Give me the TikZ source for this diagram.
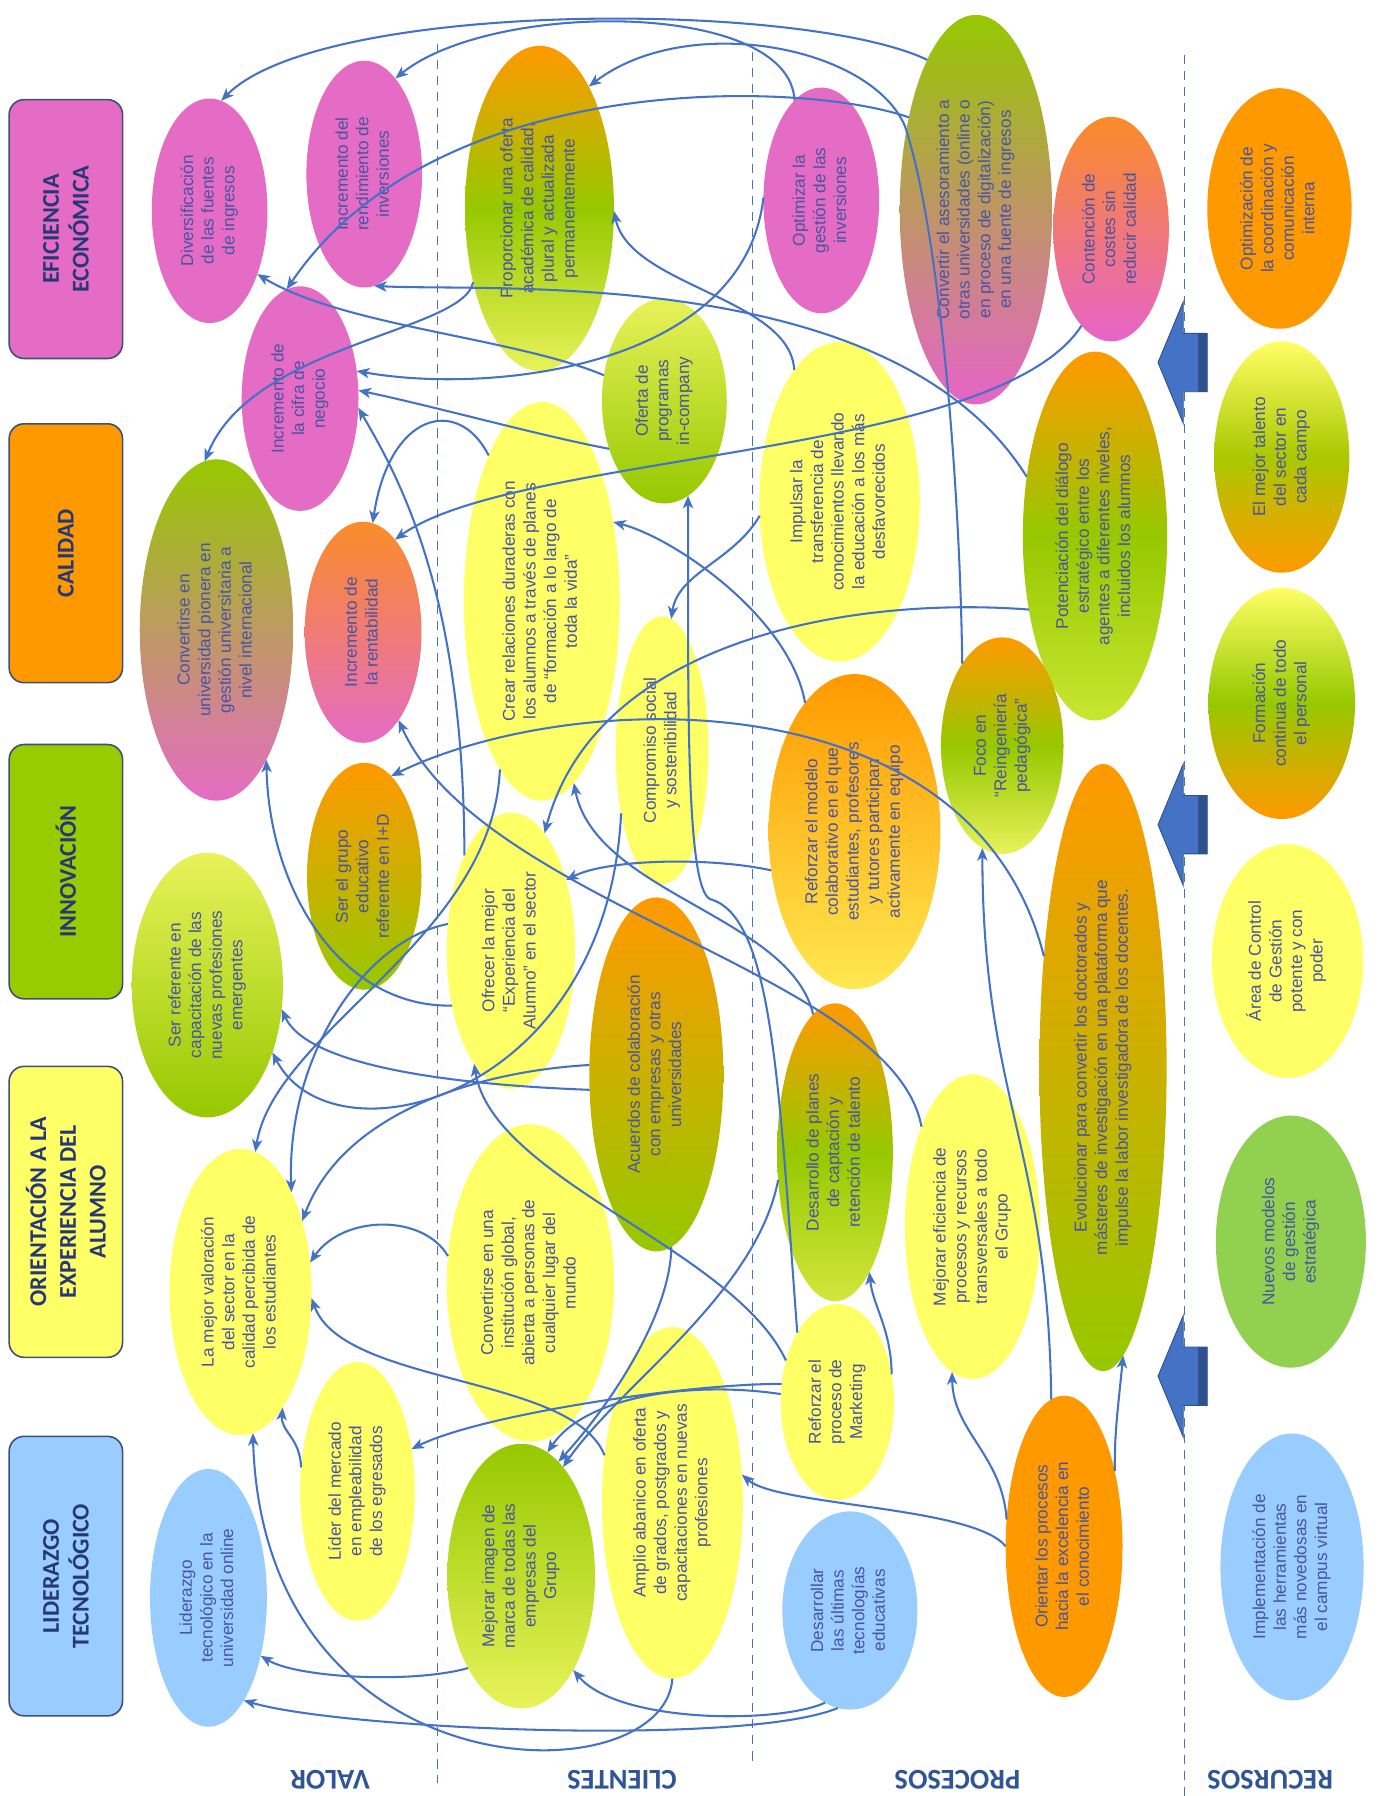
\documentclass[tikz,border=0pt]{standalone}
\usepackage{fontspec}
\usepackage{graphicx}
\setmainfont{Liberation Sans}
\newfontfamily\hdfont{Carlito}
\usetikzlibrary{shapes.geometric,arrows.meta}
\definecolor{pk}{RGB}{229,108,196}
\definecolor{pk2}{RGB}{230,100,200}
\definecolor{og}{RGB}{255,153,0}
\definecolor{or2}{RGB}{250,140,40}
\definecolor{gn}{RGB}{153,204,0}
\definecolor{gn2}{RGB}{150,200,0}
\definecolor{yl}{RGB}{255,255,102}
\definecolor{ylg}{RGB}{232,242,90}
\definecolor{lb}{RGB}{153,204,255}
\definecolor{ng}{RGB}{146,208,80}
\definecolor{txt}{RGB}{72,84,163}
\definecolor{cn}{RGB}{68,114,196}
\definecolor{dkb}{RGB}{47,82,143}
\definecolor{hdtxt}{RGB}{38,55,120}
\definecolor{hdbd}{RGB}{60,80,120}
\definecolor{lbl}{RGB}{47,85,151}
\newcommand{\rt}[1]{\rotatebox{90}{\begin{tabular}{@{}c@{}}#1\end{tabular}}}
\begin{document}
\begin{tikzpicture}[x=1pt,y=-1pt,
  ell/.style={ellipse, inner sep=0pt, outer sep=0pt, text=txt, font=\fontsize{15}{18}\selectfont},
  hdr/.style={rectangle, rounded corners=13pt, draw=hdbd, line width=1.4pt, text=hdtxt, align=center,
     font=\hdfont\bfseries\fontsize{21}{26}\selectfont, rotate=90, minimum height=99pt},
  lab/.style={text=lbl, font=\hdfont\bfseries\fontsize{25}{28}\selectfont, rotate=180},
  conn/.style={draw=cn, line width=1.8pt, -{Stealth[length=11pt,width=9pt,inset=3pt]}},
  dsh/.style={draw=cn, line width=1.4pt, dash pattern=on 8pt off 6pt},
  barrow/.style={fill=cn, draw=dkb, line width=0.8pt}]
\fill[white] (0,0) rectangle (1206,1568);
\useasboundingbox (0,0) rectangle (1206,1568);

% separators
\draw[dsh] (382,38) -- (382,1557);
\draw[dsh] (657,45) -- (657,1541);
\draw[dsh] (1034,48) -- (1034,1568);

% perspective headers
\node[hdr, fill=pk, minimum width=226pt] (h1) at (57.5,200) {EFICIENCIA\\ECONÓMICA};
\node[hdr, fill=og, minimum width=226pt] (h2) at (57.5,483) {CALIDAD};
\node[hdr, fill=gn, minimum width=222pt] (h3) at (57.5,761) {INNOVACIÓN};
\node[hdr, fill=yl, minimum width=254pt] (h4) at (57.5,1058) {ORIENTACIÓN A LA\\EXPERIENCIA DEL\\ALUMNO};
\node[hdr, fill=lb, minimum width=244pt] (h5) at (57.5,1376) {LIDERAZGO\\TECNOLÓGICO};

% row labels
\node[lab] (l1) at (288,1554) {VALOR};
\node[lab] (l2) at (543,1554) {CLIENTES};
\node[lab] (l3) at (836,1554) {PROCESOS};
\node[lab] (l4) at (1109,1554) {RECURSOS};

% VALOR
\node[ell,fill=pk,minimum width=101pt,minimum height=196pt] (e1) at (183,184) {\rt{Diversificación\\de las fuentes\\de ingresos}};
\node[ell,top color=gn2,bottom color=pk,minimum width=134pt,minimum height=298pt] (e4) at (189,550) {\rt{Convertirse en\\universidad pionera en\\gestión universitaria a\\nivel internacional}};
\node[ell,fill=pk,minimum width=101pt,minimum height=198pt] (e2) at (318,152) {\rt{Incremento del\\rendimiento de\\inversiones}};
\node[ell,fill=pk,minimum width=102pt,minimum height=196pt] (e3) at (262,348) {\rt{Incremento de\\la cifra de\\negocio}};
\node[ell,top color=or2,bottom color=pk,minimum width=102pt,minimum height=193pt] (e5) at (317,552) {\rt{Incremento de\\la rentabilidad}};
\node[ell,top color=og,bottom color=gn2,minimum width=100pt,minimum height=198pt] (e6) at (318,765) {\rt{Ser el grupo\\educativo\\referente en I+D}};
\node[ell,top color=ylg,bottom color=gn2,minimum width=132pt,minimum height=231pt] (e7) at (181,860) {\rt{Ser referente en\\capacitación de las\\nuevas profesiones\\emergentes}};
\node[ell,fill=yl,minimum width=124pt,minimum height=250pt] (e8) at (210,1128) {\rt{La mejor valoración\\del sector en la\\calidad percibida de\\los estudiantes}};
\node[ell,fill=yl,minimum width=100pt,minimum height=226pt] (e9) at (312,1302) {\rt{Líder del mercado\\en empleabilidad\\de los egresados}};
\node[ell,fill=lb,minimum width=102pt,minimum height=225pt] (e10) at (182,1395) {\rt{Liderazgo\\tecnológico en la\\universidad online}};

% CLIENTES
\node[ell,top color=og,bottom color=ylg,middle color=gn2,minimum width=130pt,minimum height=284pt] (e11) at (471,182) {\rt{Proporcionar una oferta\\académica de calidad,\\plural y actualizada\\permanentemente}};
\node[ell,fill=yl,minimum width=136pt,minimum height=348pt] (e13) at (473,525) {\rt{Crear relaciones duraderas con\\los alumnos a través de planes\\de “formación a lo largo de\\toda la vida”}};
\node[ell,top color=ylg,bottom color=gn2,minimum width=109pt,minimum height=179pt] (e12) at (580,350) {\rt{Oferta de\\programas\\in-company}};
\node[ell,fill=yl,minimum width=81pt,minimum height=234pt] (e14) at (578,655) {\rt{Compromiso social\\y sostenibilidad}};
\node[ell,fill=yl,minimum width=112pt,minimum height=241pt] (e15) at (446,830) {\rt{Ofrecer la mejor\\“Experiencia del\\Alumno” en el sector}};
\node[ell,fill=yl,minimum width=146pt,minimum height=277pt] (e17) at (463,1120) {\rt{Convertirse en una\\institución global,\\abierta a personas de\\cualquier lugar del\\mundo}};
\node[ell,top color=og,bottom color=gn2,minimum width=117pt,minimum height=309pt] (e16) at (573,938) {\rt{Acuerdos de colaboración\\con empresas y otras\\universidades}};
\node[ell,top color=gn2,bottom color=ylg,minimum width=129pt,minimum height=231pt] (e18) at (455,1376) {\rt{Mejorar imagen de\\marca de todas las\\empresas del\\Grupo}};
\node[ell,fill=yl,minimum width=123pt,minimum height=307pt] (e19) at (587,1312) {\rt{Amplio abanico en oferta\\de grados, postgrados y\\capacitaciones en nuevas\\profesiones}};

% PROCESOS
\node[ell,fill=pk,minimum width=101pt,minimum height=197pt] (e20) at (717,175) {\rt{Optimizar la\\gestión de las\\inversiones}};
\node[ell,top color=gn2,bottom color=pk2,minimum width=133pt,minimum height=340pt] (e21) at (852,183) {\rt{Convertir el asesoramiento a\\otras universidades (online o\\en proceso de digitalización)\\en una fuente de ingresos}};
\node[ell,top color=or2,bottom color=pk2,minimum width=101pt,minimum height=196pt] (e22) at (970,200) {\rt{Contención de\\costes sin\\reducir calidad}};
\node[ell,fill=yl,minimum width=140pt,minimum height=279pt] (e23) at (733,438) {\rt{Impulsar la\\transferencia de\\conocimientos llevando\\la educación a los más\\desfavorecidos}};
\node[ell,top color=og,bottom color={rgb,255:red,200;green,230;blue,50},middle color=gn2,minimum width=126pt,minimum height=322pt] (e24) at (956,468) {\rt{Potenciación del diálogo\\estratégico entre los\\agentes a diferentes niveles,\\incluidos los alumnos}};
\node[ell,top color=og,bottom color=ylg,middle color=gn2,minimum width=107pt,minimum height=189pt] (e25) at (875,651) {\rt{Foco en\\“Reingeniería\\pedagógica”}};
\node[ell,top color=og,bottom color={rgb,255:red,255;green,232;blue,80},minimum width=150pt,minimum height=275pt] (e26) at (746,726) {\rt{Reforzar el modelo\\colaborativo en el que\\estudiantes, profesores\\y tutores participan\\activamente en equipo}};
\node[ell,top color=og,bottom color=gn2,minimum width=111pt,minimum height=530pt] (e27) at (963,932) {\rt{Evolucionar para convertir los doctorados y\\másteres de investigación en una plataforma que\\impulse la labor investigadora de los docentes.}};
\node[ell,top color=og,bottom color={rgb,255:red,210;green,230;blue,60},middle color=gn2,minimum width=101pt,minimum height=260pt] (e28) at (729,1006) {\rt{Desarrollo de planes\\de captación y\\retención de talento}};
\node[ell,fill=yl,minimum width=118pt,minimum height=266pt] (e29) at (849,1071) {\rt{Mejorar eficiencia de\\procesos y recursos\\transversales a todo\\el Grupo}};
\node[ell,fill=yl,minimum width=99pt,minimum height=171pt] (e30) at (731,1224) {\rt{Reforzar el\\proceso de\\Marketing}};
\node[ell,fill=lb,minimum width=118pt,minimum height=173pt] (e31) at (742,1406) {\rt{Desarrollar\\las últimas\\tecnologías\\educativas}};
\node[ell,fill=og,minimum width=102pt,minimum height=263pt] (e32) at (929,1350) {\rt{Orientar los procesos\\hacia la excelencia en\\el conocimiento}};

% RECURSOS
\node[ell,fill=og,minimum width=126pt,minimum height=210pt] (e33) at (1117,182) {\rt{Optimización de\\la coordinación y\\comunicación\\interna}};
\node[ell,top color=yl,bottom color=og,middle color={rgb,255:red,170;green,200;blue,0},minimum width=118pt,minimum height=202pt] (e34) at (1119,399) {\rt{El mejor talento\\del sector en\\cada campo}};
\node[ell,top color=yl,bottom color=og,middle color=gn2,minimum width=128pt,minimum height=202pt] (e35) at (1119,614) {\rt{Formación\\continua de todo\\el personal}};
\node[ell,fill=yl,minimum width=132pt,minimum height=204pt] (e36) at (1124,839) {\rt{Área de Control\\de Gestión\\potente y con\\poder}};
\node[ell,fill=ng,minimum width=131pt,minimum height=220pt] (e37) at (1127,1084) {\rt{Nuevos modelos\\de gestión\\estratégica}};
\node[ell,fill=lb,minimum width=125pt,minimum height=233pt] (e38) at (1128,1368) {\rt{Implementación de\\las herramientas\\más novedosas en\\el campus virtual}};

% block arrows RECURSOS -> PROCESOS
\foreach \yy in {316.5,720,1201.5}{
  \filldraw[barrow] (1011,\yy) -- (1033,\yy-53) -- (1033,\yy-25.5) -- (1054,\yy-25.5)
     -- (1054,\yy+25.5) -- (1033,\yy+25.5) -- (1033,\yy+53) -- cycle;
  \fill[dkb] (1046,\yy-25.5) rectangle (1054,\yy+25.5);
}

% connectors
\draw[conn] (e21.108) .. controls (700,0) and (280,0) .. (e1.84);
\draw[conn] (e20.105) .. controls (690,0) and (430,0) .. (e2.72);
\draw[conn] (e25.116) .. controls (838,420) and (820,200) .. (790,110) .. controls (760,40) and (600,10) .. (e11.68);
\draw[conn] (e21.126) .. controls (700,70) and (380,60) .. (e3.97);
\draw[conn] (e12.157) .. controls (450,295) and (300,285) .. (e1.-53);
\draw[conn] (e24.139) .. controls (780,230) and (430,255) .. (e2.-85);
\draw[conn] (e20.177) .. controls (650,320) and (430,345) .. (e3.26);
\draw[conn] (e23.109) .. controls (690,260) and (550,250) .. (e11.-2);
\draw[conn] (e11.228) .. controls (405,290) and (220,300) .. (e4.94);
\draw[conn] (e12.221) .. controls (470,380) and (380,355) .. (e3.8);
\draw[conn] (e13.110) .. controls (400,345) and (340,360) .. (e5.85);
\draw[conn] (e22.253) .. controls (870,400) and (450,395) .. (e5.71);
\draw[conn] (e15.116) .. controls (405,520) and (350,420) .. (e3.-9);
\draw[conn] (e15.223) .. controls (300,880) and (235,780) .. (e4.-69);
\draw[conn] (e24.228) .. controls (740,520) and (520,560) .. (e15.74);
\draw[conn] (e26.205) .. controls (620,748) and (530,750) .. (e15.52);
\draw[conn] (e27.118) .. controls (850,590) and (500,600) .. (e6.75);
\draw[conn] (e29.117) .. controls (780,850) and (420,790) .. (e5.-68);
\draw[conn] (e16.193) .. controls (420,948) and (270,935) .. (e7.-18);
\draw[conn] (e14.237) .. controls (530,960) and (290,1020) .. (e7.-46);
\draw[conn] (e13.256) .. controls (430,820) and (240,900) .. (e8.84);
\draw[conn] (e15.157) .. controls (320,820) and (250,920) .. (e8.63);
\draw[conn] (e16.172) .. controls (420,935) and (300,970) .. (e8.49);
\draw[conn] (e17.162) .. controls (370,1060) and (300,1060) .. (e8.23);
\draw[conn] (e19.145) .. controls (500,1200) and (300,1210) .. (e8.-5);
\draw[conn] (e9.157) .. controls (262,1255) and (245,1250) .. (e8.-70);
\draw[conn] (e19.270) .. controls (580,1570) and (230,1570) .. (e8.-85);
\draw[conn] (e30.162) .. controls (600,1208) and (420,1235) .. (e9.38);
\draw[conn] (e30.172) .. controls (600,1205) and (510,1220) .. (e18.78);
\draw[conn] (e28.206) .. controls (660,1130) and (540,1210) .. (e18.69);
\draw[conn] (e16.-85) .. controls (585,1150) and (530,1230) .. (e18.72);
\draw[conn] (e31.255) .. controls (680,1505) and (540,1505) .. (e18.-61);
\draw[conn] (e31.263) .. controls (650,1525) and (300,1510) .. (e10.-71);
\draw[conn] (e18.240) .. controls (360,1470) and (260,1465) .. (e10.-48);
\draw[conn] (e32.180) .. controls (850,1315) and (680,1315) .. (e19.22);
\draw[conn] (e32.155) .. controls (875,1270) and (832,1250) .. (e29.262);
\draw[conn] (e32.56) .. controls (973,1250) and (976,1230) .. (e27.-86);
\draw[conn] (e32.95) .. controls (915,1000) and (858,960) .. (e25.259);
\draw[conn] (e30.27) .. controls (778,1160) and (762,1140) .. (e28.-74);
\draw[conn] (e30.120) .. controls (680,950) and (675,800) .. (620,785) .. controls (598,775) and (601,600) .. (e12.-76);
\draw[conn] (e28.99) .. controls (690,800) and (520,780) .. (e13.-80);
\draw[conn] (e26.111) .. controls (690,540) and (590,470) .. (e13.48);
\draw[conn] (e23.190) .. controls (640,490) and (592,500) .. (e14.86);
\draw[conn] (e30.141) .. controls (640,1090) and (430,1030) .. (e15.252);
\end{tikzpicture}
\end{document}
